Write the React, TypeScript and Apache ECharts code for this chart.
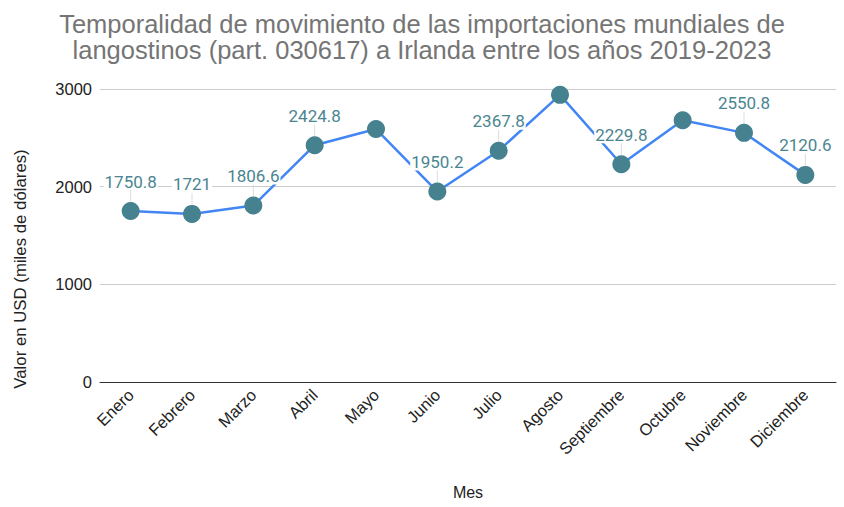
import React, { useEffect, useRef } from "react";
import * as echarts from "echarts";

const months = ["Enero", "Febrero", "Marzo", "Abril", "Mayo", "Junio", "Julio", "Agosto", "Septiembre", "Octubre", "Noviembre", "Diciembre"];
const values = [1750.8, 1721, 1806.6, 2424.8, 2590, 1950.2, 2367.8, 2940, 2229.8, 2680, 2550.8, 2120.6];
const showLabel = [true, true, true, true, false, true, true, false, true, false, true, true];
const yTicks = [0, 1000, 2000, 3000];

const titleText = "Temporalidad de movimiento de las importaciones mundiales de\nlangostinos (part. 030617) a Irlanda entre los años 2019-2023";
const yName = "Valor en USD (miles de dólares)";
const xName = "Mes";

export default function App() {
  const ref = useRef<HTMLDivElement>(null);
  useEffect(() => {
    document.body.style.margin = "0";
    const chart = echarts.init(ref.current!, undefined, { renderer: "svg" });
    const axisFont = "Liberation Sans";
    const labelFont = "Roboto";
    chart.setOption({
      animation: false,
      backgroundColor: "#ffffff",
      textStyle: { fontFamily: axisFont },
      title: {
        text: titleText,
        left: "center",
        top: 6,
        textStyle: { fontFamily: axisFont, fontSize: 25.5, fontWeight: "normal", color: "#757575", lineHeight: 26 },
      },
      grid: { left: 100, right: 8, top: 89, bottom: 125, containLabel: false },
      xAxis: {
        type: "category",
        data: months,
        boundaryGap: true,
        axisLine: { show: true, lineStyle: { color: "#333333", width: 1 } },
        axisTick: { show: false },
        axisLabel: { rotate: 45, fontSize: 16.5, color: "#222222", fontFamily: axisFont, margin: 10, interval: 0 },
      },
      yAxis: {
        type: "value",
        min: yTicks[0],
        max: yTicks[yTicks.length - 1],
        interval: 1000,
        axisLine: { show: false },
        axisTick: { show: false },
        splitLine: { lineStyle: { color: "#cccccc", width: 1 } },
        axisLabel: { fontSize: 16.5, color: "#222222", fontFamily: axisFont, margin: 8, formatter: (v: number) => String(v) },
      },
      graphic: [
        {
          type: "text",
          x: 20,
          y: 269,
          rotation: Math.PI / 2,
          style: { text: yName, fontSize: 16.8, fill: "#222222", fontFamily: axisFont, textAlign: "center", textVerticalAlign: "middle" },
        },
        {
          type: "text",
          x: 468,
          y: 492,
          style: { text: xName, fontSize: 16, fill: "#222222", fontFamily: axisFont, textAlign: "center", textVerticalAlign: "middle" },
        },
      ],
      series: [
        {
          type: "custom",
          z: 1,
          silent: true,
          data: values.map((v, i) => [i, v]),
          renderItem: (params: any, api: any) => {
            const i = api.value(0);
            if (!showLabel[i]) return null;
            const p = api.coord([i, api.value(1)]);
            return {
              type: "line",
              shape: { x1: p[0], y1: p[1] - 9, x2: p[0], y2: p[1] - 21 },
              style: { stroke: "#dddddd", lineWidth: 1 },
            };
          },
        },
        {
          type: "line",
          z: 3,
          data: values.map((v, i) => ({
            value: v,
            label: { show: showLabel[i] },
          })),
          symbol: "circle",
          symbolSize: 18,
          lineStyle: { color: "#4285f4", width: 2.5 },
          itemStyle: { color: "#45818e" },
          label: {
            show: true,
            position: "top",
            distance: 12,
            fontSize: 17,
            color: "#4a8590",
            fontFamily: labelFont,
            backgroundColor: "#ffffff",
            padding: [0, 1],
          },
        },
      ],
    });
    return () => chart.dispose();
  }, []);
  return <div ref={ref} style={{ width: 844, height: 507 }} />;
}
